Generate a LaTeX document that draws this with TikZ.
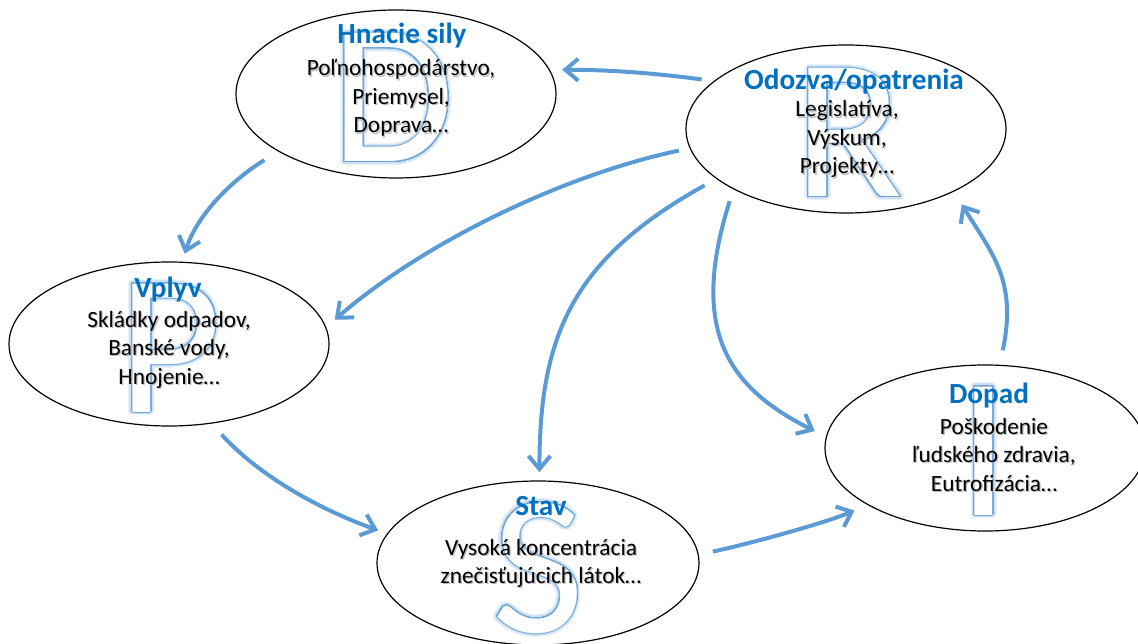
\documentclass[tikz,border=0pt]{standalone}
\usepackage{fontspec}
\setmainfont{Carlito}
\usepackage{contour}
\usetikzlibrary{arrows.meta,shapes.geometric}
\definecolor{arrowblue}{HTML}{5B9BD5}
\definecolor{titleblue}{HTML}{0070C0}
\definecolor{letterline}{HTML}{6FA6DA}
\definecolor{glowouter}{HTML}{EAF2FA}
\definecolor{glowinner}{HTML}{CFE1F3}
\contournumber{48}

% Large outlined letter with a soft blue glow
\newcommand\glowglyph[1]{%
  \makebox[0pt]{\contourlength{3.8pt}\color{white}\contour{glowouter}{#1}}%
  \makebox[0pt]{\contourlength{2.4pt}\color{white}\contour{glowinner}{#1}}%
  \makebox[0pt]{\contourlength{1.0pt}\color{white}\contour{letterline}{#1}}}
\newcommand\stagelines[1]{\begin{tabular}[t]{@{}c@{}}#1\end{tabular}}

\tikzset{
  stage/.style={ellipse, draw=black, line width=1.2pt, fill=white,
    minimum width=320pt, inner sep=0pt, outer sep=0pt},
  glyph/.style={anchor=base, inner sep=0pt, font=\fontsize{200}{200}\selectfont},
  heading/.style={anchor=base, inner sep=0pt, text=titleblue,
    font=\bfseries\fontsize{29.2}{31}\selectfont},
  body/.style={anchor=base, inner sep=0pt, font=\fontsize{23.3}{28.5}\selectfont},
  bodyshadow/.style={body, text=black!25, xshift=1.3pt, yshift=-1.3pt},
  flow/.style={draw=arrowblue, line width=4pt,
    -{Straight Barb[length=13pt,width=22pt]}},
}

\begin{document}
\begin{tikzpicture}[x=1pt,y=-1pt]
\useasboundingbox (0,0) rectangle (1138,644);

% stages of the DPSIR cycle
\node[stage, minimum height=168pt] (D) at (396,94) {};
\node[stage, minimum height=168pt] (R) at (846,129) {};
\node[stage, minimum height=164pt] (P) at (169,344) {};
\node[stage, minimum height=164pt, minimum width=322pt] (S) at (538,563) {};
\node[stage, minimum height=166pt] (I) at (985,448) {};

% initial letters behind the text
\node[glyph] (Dglyph) at (393,162) {\glowglyph{D}};
\node[glyph] (Rglyph) at (849,197) {\glowglyph{R}};
\node[glyph] (Pglyph) at (170,412) {\glowglyph{P}};
\node[glyph] (Sglyph) at (538,632) {\glowglyph{S}};
\node[glyph] (Iglyph) at (984,515) {\glowglyph{I}};

% Driving forces
\node[heading] (Dtitle) at (402,44) {Hnacie sily};
\node[bodyshadow] (Dshadow) at (401,76) {\stagelines{Poľnohospodárstvo,\\Priemysel,\\Doprava…}};
\node[body] (Dtext) at (401,76) {\stagelines{Poľnohospodárstvo,\\Priemysel,\\Doprava…}};

% Responses
\node[heading] (Rtitle) at (854,90) {Odozva/opatrenia};
\node[bodyshadow] (Rshadow) at (847,117) {\stagelines{Legislatíva,\\Výskum,\\Projekty…}};
\node[body] (Rtext) at (847,117) {\stagelines{Legislatíva,\\Výskum,\\Projekty…}};

% Pressures
\node[heading] (Ptitle) at (168,298) {Vplyv};
\node[bodyshadow] (Pshadow) at (169,327) {\stagelines{Skládky odpadov,\\Banské vody,\\Hnojenie…}};
\node[body] (Ptext) at (169,327) {\stagelines{Skládky odpadov,\\Banské vody,\\Hnojenie…}};

% State
\node[heading] (Stitle) at (541,515) {Stav};
\node[bodyshadow] (Sshadow) at (541,555) {\stagelines{Vysoká koncentrácia\\znečisťujúcich látok…}};
\node[body] (Stext) at (541,555) {\stagelines{Vysoká koncentrácia\\znečisťujúcich látok…}};

% Impact
\node[heading] (Ititle) at (989,403) {Dopad};
\node[bodyshadow] (Ishadow) at (994,434) {\stagelines{Poškodenie\\ľudského zdravia,\\Eutrofizácia…}};
\node[body] (Itext) at (994,434) {\stagelines{Poškodenie\\ľudského zdravia,\\Eutrofizácia…}};

% connectors
\draw[flow, shorten <=13pt, shorten >=13pt]
  (R.160) .. controls +(-60,-8) and +(60,0) .. (D.9);
\draw[flow, shorten <=17pt, shorten >=9pt]
  (D.206) .. controls +(-47,29) and +(15,-47.5) .. (P.81);
\draw[flow, shorten <=11.5pt, shorten >=12pt]
  (R.187) .. controls +(-127,27) and +(98,-85) .. (P.6);
\draw[flow, shorten <=14pt, shorten >=9pt]
  (R.201) .. controls +(-144,80) and +(0,-146) .. (S.89);
\draw[flow, shorten <=13pt, shorten >=13pt]
  (R.208) .. controls +(-45,142) and +(-98,-49) .. (I.176);
\draw[flow, shorten <=15.5pt, shorten >=15.5pt]
  (I.80) .. controls +(18,-85) and +(38,62) .. (R.-30);
\draw[flow, shorten <=15.5pt, shorten >=10pt]
  (P.-62) .. controls +(54,59) and +(-56,-20) .. (S.169);
\draw[flow, shorten <=15pt, shorten >=15pt]
  (S.3) .. controls +(48,-10) and +(-46,19) .. (I.206);
\end{tikzpicture}
\end{document}
